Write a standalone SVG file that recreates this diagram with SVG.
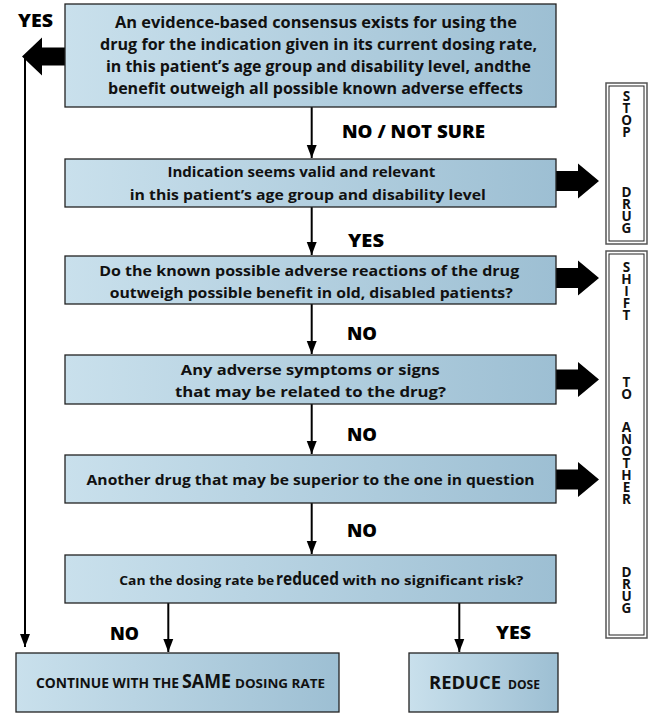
<svg xmlns="http://www.w3.org/2000/svg" width="656" height="713" viewBox="0 0 656 713">
<style>
.box{fill:url(#g);stroke:#222;stroke-width:1.3}
.t{font-family:"Open Sans","Liberation Sans",sans-serif;font-weight:700;fill:#111}
.b16{font-size:16px}
.b15{font-size:15px}
.lab{font-family:"Open Sans","Liberation Sans",sans-serif;font-weight:800;font-size:17px;fill:#000}
.col{font-family:"Open Sans","Liberation Sans",sans-serif;font-weight:700;font-size:13.5px;fill:#111;text-anchor:middle}
.ln{stroke:#000;stroke-width:2;fill:none}
.out{fill:#fff;stroke:#555;stroke-width:1.5}
.inn{fill:none;stroke:#222;stroke-width:1}
</style>
<defs>
<linearGradient id="g" x1="0" y1="0" x2="1" y2="0">
<stop offset="0" stop-color="#c9e0ec"/>
<stop offset="1" stop-color="#9dbfd3"/>
</linearGradient>
<marker id="ah" markerUnits="userSpaceOnUse" markerWidth="13" markerHeight="18" refX="17" refY="6.5" orient="auto" viewBox="0 0 17 13">
<path d="M0,0 L17,6.5 L0,13 Z" fill="#000"/>
</marker>
<path id="ra" d="M0,-10 H22 V-17.5 L43,0 L22,17.5 V10 H0 Z" fill="#000"/>
</defs>

<g id="connectors">
<path d="M65,47.5 H42 V37.5 L22,56.5 L42,75.5 V65.5 H65 Z" fill="#000"/>
<path class="ln" d="M25,56 V647" marker-end="url(#ah)"/>
<path class="ln" d="M311.7,107 V158" marker-end="url(#ah)"/>
<path class="ln" d="M311.7,207 V255" marker-end="url(#ah)"/>
<path class="ln" d="M311.7,304 V354" marker-end="url(#ah)"/>
<path class="ln" d="M311.7,404 V454" marker-end="url(#ah)"/>
<path class="ln" d="M311.7,503 V554" marker-end="url(#ah)"/>
<path class="ln" d="M168.3,603 V652" marker-end="url(#ah)"/>
<path class="ln" d="M459.3,603 V652" marker-end="url(#ah)"/>
<use href="#ra" x="556" y="181"/>
<use href="#ra" x="556" y="278"/>
<use href="#ra" x="556" y="379.5"/>
<use href="#ra" x="556" y="479.5"/>
<text class="lab" x="18" y="27" textLength="35" lengthAdjust="spacingAndGlyphs">YES</text>
<text class="lab" x="342" y="138" font-size="18" textLength="143" lengthAdjust="spacingAndGlyphs">NO / NOT SURE</text>
<text class="lab" x="348" y="247" textLength="36" lengthAdjust="spacingAndGlyphs">YES</text>
<text class="lab" x="347" y="340" textLength="30" lengthAdjust="spacingAndGlyphs">NO</text>
<text class="lab" x="347" y="441" textLength="30" lengthAdjust="spacingAndGlyphs">NO</text>
<text class="lab" x="347" y="537" textLength="30" lengthAdjust="spacingAndGlyphs">NO</text>
<text class="lab" x="110" y="640" textLength="29" lengthAdjust="spacingAndGlyphs">NO</text>
<text class="lab" x="496" y="639" textLength="35" lengthAdjust="spacingAndGlyphs">YES</text>
</g>

<g id="n1">
<rect class="box" x="65" y="4" width="491" height="103"/>
<text class="t b16" x="115" y="28" textLength="402" lengthAdjust="spacingAndGlyphs">An evidence-based consensus exists for using the</text>
<text class="t b16" x="100" y="49.5" textLength="437" lengthAdjust="spacingAndGlyphs">drug for the indication given in its current dosing rate,</text>
<text class="t b16" x="106" y="71.5" textLength="425" lengthAdjust="spacingAndGlyphs">in this patient’s age group and disability level, andthe</text>
<text class="t b16" x="108" y="93.5" textLength="415" lengthAdjust="spacingAndGlyphs">benefit outweigh all possible known adverse effects</text>
</g>

<g id="n2">
<rect class="box" x="65" y="159" width="491" height="48"/>
<text class="t b15" x="167.4" y="176.5" textLength="268" lengthAdjust="spacingAndGlyphs">Indication seems valid and relevant</text>
<text class="t b15" x="129.8" y="199.5" textLength="356" lengthAdjust="spacingAndGlyphs">in this patient’s age group and disability level</text>
</g>

<g id="n3">
<rect class="box" x="65" y="256" width="491" height="48"/>
<text class="t b15" x="99.2" y="276" textLength="420" lengthAdjust="spacingAndGlyphs">Do the known possible adverse reactions of the drug</text>
<text class="t b15" x="109.7" y="298" textLength="403" lengthAdjust="spacingAndGlyphs">outweigh possible benefit in old, disabled patients?</text>
</g>

<g id="n4">
<rect class="box" x="65" y="355" width="491" height="49"/>
<text class="t b15" x="180.8" y="375" textLength="259" lengthAdjust="spacingAndGlyphs">Any adverse symptoms or signs</text>
<text class="t b15" x="175" y="397" textLength="271" lengthAdjust="spacingAndGlyphs">that may be related to the drug?</text>
</g>

<g id="n5">
<rect class="box" x="65" y="455" width="491" height="48"/>
<text class="t b15" x="86.6" y="485" textLength="448" lengthAdjust="spacingAndGlyphs">Another drug that may be superior to the one in question</text>
</g>

<g id="n6">
<rect class="box" x="65" y="555" width="491" height="48"/>
<text class="t" font-size="13" x="119.3" y="585" textLength="155" lengthAdjust="spacingAndGlyphs">Can the dosing rate be</text>
<text class="t" font-size="18" x="276" y="585" textLength="63" lengthAdjust="spacingAndGlyphs">reduced</text>
<text class="t" font-size="13" x="342.4" y="585" textLength="181" lengthAdjust="spacingAndGlyphs">with no significant risk?</text>
</g>

<g id="n7">
<rect class="box" x="16" y="653" width="323" height="59"/>
<text class="t" font-size="13.5" x="36" y="688" textLength="143" lengthAdjust="spacingAndGlyphs">CONTINUE  WITH  THE</text>
<text class="t" font-size="19" x="182" y="688" textLength="49" lengthAdjust="spacingAndGlyphs">SAME</text>
<text class="t" font-size="13" x="235" y="688" textLength="90" lengthAdjust="spacingAndGlyphs">DOSING RATE</text>
</g>

<g id="n8">
<rect class="box" x="409" y="653" width="149" height="59"/>
<text class="t" font-size="18" x="429" y="689" textLength="72" lengthAdjust="spacingAndGlyphs">REDUCE</text>
<text class="t" font-size="13" x="508" y="689" textLength="32" lengthAdjust="spacingAndGlyphs">DOSE</text>
</g>

<g id="stop">
<rect class="out" x="606" y="83" width="41" height="161"/>
<rect class="inn" x="609" y="86" width="35" height="155"/>
<text class="col" x="626.5" y="101">S</text>
<text class="col" x="626.5" y="113">T</text>
<text class="col" x="626.5" y="125">O</text>
<text class="col" x="626.5" y="137">P</text>
<text class="col" x="626.5" y="197">D</text>
<text class="col" x="626.5" y="209">R</text>
<text class="col" x="626.5" y="221">U</text>
<text class="col" x="626.5" y="233">G</text>
</g>

<g id="shift">
<rect class="out" x="606" y="251" width="41" height="387"/>
<rect class="inn" x="609" y="254" width="35" height="381"/>
<text class="col" x="626.5" y="272">S</text>
<text class="col" x="626.5" y="284">H</text>
<text class="col" x="626.5" y="296">I</text>
<text class="col" x="626.5" y="308">F</text>
<text class="col" x="626.5" y="320">T</text>
<text class="col" x="626.5" y="387">T</text>
<text class="col" x="626.5" y="399">O</text>
<text class="col" x="626.5" y="432">A</text>
<text class="col" x="626.5" y="444">N</text>
<text class="col" x="626.5" y="456">O</text>
<text class="col" x="626.5" y="468">T</text>
<text class="col" x="626.5" y="480">H</text>
<text class="col" x="626.5" y="492">E</text>
<text class="col" x="626.5" y="504">R</text>
<text class="col" x="626.5" y="577">D</text>
<text class="col" x="626.5" y="589">R</text>
<text class="col" x="626.5" y="601">U</text>
<text class="col" x="626.5" y="613">G</text>
</g>
</svg>
